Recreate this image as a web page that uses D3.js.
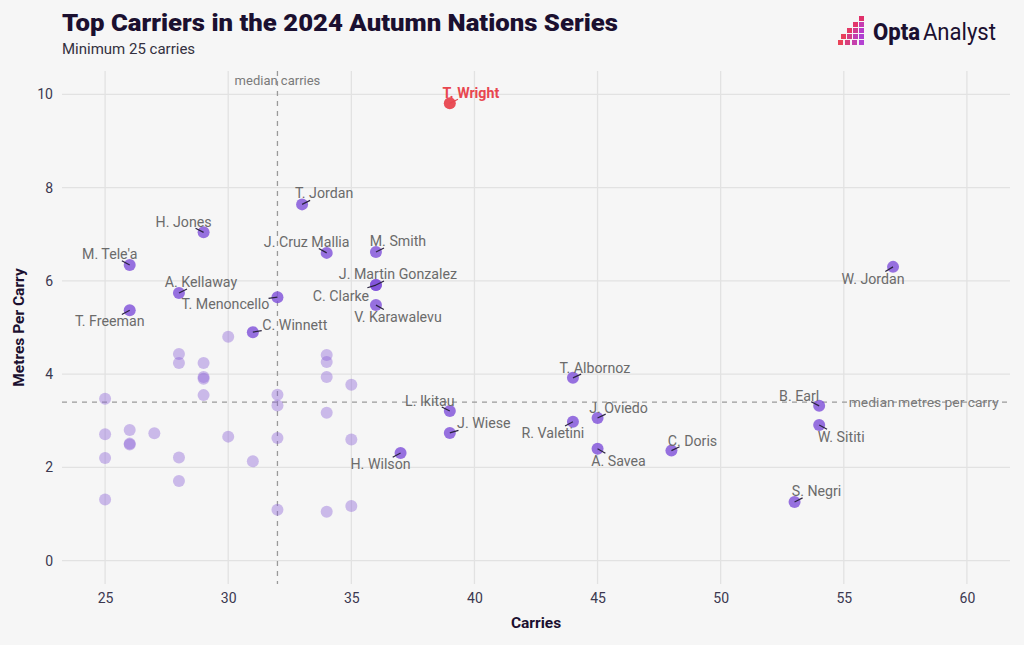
<!DOCTYPE html>
<html>
<head>
<meta charset="utf-8">
<script src="https://cdn.jsdelivr.net/npm/d3@7"></script>
<style>
  html, body { margin: 0; padding: 0; background: #f6f6f6; }
  svg { display: block; font-family: Roboto, "Noto Sans", sans-serif; }
</style>
</head>
<body>
<svg id="chart" width="1024" height="645"></svg>
<script>
// ---------------- DATA ----------------
const labelledNames = ["T. Wright","T. Jordan","H. Jones","J. Cruz Mallia","M. Smith","M. Tele'a","W. Jordan",
  "J. Martin Gonzalez","C. Clarke","A. Kellaway","T. Menoncello","V. Karawalevu","T. Freeman","C. Winnett",
  "T. Albornoz","B. Earl","L. Ikitau","J. Oviedo","R. Valetini","W. Sititi","J. Wiese","A. Savea","C. Doris",
  "H. Wilson","S. Negri"];
const labelledCarries = [39,33,29,34,36,26,57,36,36,28,32,36,26,31,44,54,39,45,44,54,39,45,48,37,53];
const labelledMetres  = [9.81,7.64,7.04,6.60,6.62,6.34,6.30,5.91,5.91,5.74,5.65,5.48,5.37,4.90,
  3.92,3.32,3.21,3.06,2.98,2.91,2.74,2.40,2.36,2.31,1.26];
const highlighted = ["T. Wright"];

const otherCarries = [25,25,25,25,26,26,26,27,28,28,28,28,29,29,29,29,30,30,31,32,32,32,32,34,34,34,34,34,35,35,35];
const otherMetres  = [3.47,2.71,2.20,1.31,2.80,2.49,2.51,2.73,4.43,4.24,2.21,1.71,4.24,3.90,3.94,3.55,4.80,2.66,2.13,
  3.56,3.33,2.63,1.09,4.41,4.26,3.94,3.17,1.05,3.77,2.60,1.17];

const medianCarries = 32;
const medianMetres = 3.40;

const xTicks = [25,30,35,40,45,50,55,60];
const yTicks = [0,2,4,6,8,10];

// label placement offsets (px from the point to the label centre)
const labelOffsets = [[21,-10],[22,-11],[-20,-10],[-20,-11],[22,-11],[-20,-11],[-20,12],[22,-11],[-35,11],
  [22,-11],[-52,7],[22,12],[-20,11],[42,-7],[22,-10],[-20,-10],[-20,-10],[21,-10],[-20,11],[22,12],
  [34,-10],[21,12],[21,-10],[-20,11],[22,-11]];

// ---------------- CHART ----------------
const svg = d3.select("#chart");
const W = 1024, H = 645;
const P = {left: 62, right: 1010, top: 71, bottom: 584};

svg.append("rect").attr("width", W).attr("height", H).attr("fill", "#f6f6f6");

const x = d3.scaleLinear().domain([23.25, 61.75]).range([P.left, P.right]);
const y = d3.scaleLinear().domain([-0.5, 10.5]).range([P.bottom, P.top]);

// grid
const grid = svg.append("g");
grid.selectAll(".gx").data(xTicks).join("line")
  .attr("x1", d => x(d)).attr("x2", d => x(d)).attr("y1", P.top).attr("y2", P.bottom)
  .attr("stroke", "#e2e2e2").attr("stroke-width", 1.3);
grid.selectAll(".gy").data(yTicks).join("line")
  .attr("x1", P.left).attr("x2", P.right).attr("y1", d => y(d)).attr("y2", d => y(d))
  .attr("stroke", "#e2e2e2").attr("stroke-width", 1.3);

// axes (tick labels only)
const xAxis = d3.axisBottom(x).tickValues(xTicks).tickSize(0).tickPadding(9);
const gx = svg.append("g").attr("transform", `translate(0,${P.bottom})`).call(xAxis);
gx.select(".domain").remove();
gx.selectAll("text").attr("font-size", 14).attr("fill", "#3b3850")
  .attr("font-family", "Roboto, sans-serif");

const yAxis = d3.axisLeft(y).tickValues(yTicks).tickSize(0).tickPadding(9);
const gy = svg.append("g").attr("transform", `translate(${P.left},0)`).call(yAxis);
gy.select(".domain").remove();
gy.selectAll("text").attr("font-size", 14).attr("fill", "#3b3850")
  .attr("font-family", "Roboto, sans-serif");

// axis titles
svg.append("text").attr("x", x(42.5)).attr("y", 628).attr("text-anchor", "middle")
  .attr("font-size", 15.5).attr("font-weight", 700).attr("fill", "#1b1030").text("Carries");
svg.append("text").attr("transform", `translate(24,${y(5)}) rotate(-90)`).attr("text-anchor", "middle")
  .attr("font-size", 15.5).attr("font-weight", 700).attr("fill", "#1b1030").text("Metres Per Carry");

// median lines
svg.append("line").attr("x1", x(medianCarries)).attr("x2", x(medianCarries))
  .attr("y1", P.top).attr("y2", P.bottom)
  .attr("stroke", "#9a9a9a").attr("stroke-width", 1.3).attr("stroke-dasharray", "5,5");
svg.append("line").attr("x1", P.left).attr("x2", P.right)
  .attr("y1", y(medianMetres)).attr("y2", y(medianMetres))
  .attr("stroke", "#9a9a9a").attr("stroke-width", 1.3).attr("stroke-dasharray", "5,5");
svg.append("text").attr("x", x(medianCarries)).attr("y", y(10.3)).attr("text-anchor", "middle")
  .attr("dy", "0.35em").attr("font-size", 13).attr("fill", "#7a7a7a").text("median carries");
svg.append("text").attr("x", x(55.2)).attr("y", y(medianMetres)).attr("text-anchor", "start")
  .attr("dy", "0.35em").attr("font-size", 13).attr("fill", "#7a7a7a")
  .attr("textLength", 150).attr("lengthAdjust", "spacingAndGlyphs").text("median metres per carry");

// unlabelled points
const others = otherCarries.map((c, i) => ({c, m: otherMetres[i]}));
svg.append("g").selectAll("circle").data(others).join("circle")
  .attr("cx", d => x(d.c)).attr("cy", d => y(d.m)).attr("r", 6)
  .attr("fill", "#8a5fd8").attr("fill-opacity", 0.4);

// labelled points
const lab = labelledNames.map((n, i) => ({
  n, c: labelledCarries[i], m: labelledMetres[i], off: labelOffsets[i], hi: highlighted.includes(n)
}));
svg.append("g").selectAll("circle").data(lab).join("circle")
  .attr("cx", d => x(d.c)).attr("cy", d => y(d.m)).attr("r", 6)
  .attr("fill", d => d.hi ? "#e8464f" : "#7e4fd9").attr("fill-opacity", d => d.hi ? 0.95 : 0.8);

// leader segments
svg.append("g").selectAll("line").data(lab).join("line")
  .attr("x1", d => x(d.c)).attr("y1", d => y(d.m))
  .attr("x2", d => { const [dx, dy] = d.off, L = Math.hypot(dx, dy); return x(d.c) + dx / L * 9; })
  .attr("y2", d => { const [dx, dy] = d.off, L = Math.hypot(dx, dy); return y(d.m) + dy / L * 9; })
  .attr("stroke", d => d.hi ? "#e8464f" : "#2a2340").attr("stroke-width", 1.2);

// labels
svg.append("g").selectAll("text").data(lab).join("text")
  .attr("x", d => x(d.c) + d.off[0]).attr("y", d => y(d.m) + d.off[1])
  .attr("dy", "0.35em").attr("text-anchor", "middle")
  .attr("font-size", 14.2).attr("font-weight", d => d.hi ? 700 : 400)
  .attr("fill", d => d.hi ? "#e8464f" : "#6b6b6b").text(d => d.n);

// title & subtitle
svg.append("text").attr("x", 62).attr("y", 31).attr("font-size", 23).attr("font-weight", 900)
  .attr("fill", "#1b1030").attr("textLength", 556).attr("lengthAdjust", "spacingAndGlyphs")
  .text("Top Carriers in the 2024 Autumn Nations Series");
svg.append("text").attr("x", 62).attr("y", 54).attr("font-size", 15).attr("fill", "#333040")
  .text("Minimum 25 carries");

// logo
const logoSquares = [[859,16,"#e0306a"],[853,22,"#e2366b"],[859,22,"#c63bb0"],[847,28,"#e43a66"],[853,28,"#d23a8e"],
  [859,28,"#b93ac8"],[841,34,"#e83f5c"],[847,34,"#d43e86"],[853,34,"#c23fb0"],[859,34,"#b03fd0"],
  [838,40,"#ea4358"],[845,40,"#d8407e"],[852,40,"#c540ac"],[859,40,"#b442d2"]];
svg.append("g").selectAll("rect").data(logoSquares).join("rect")
  .attr("x", d => d[0]).attr("y", d => d[1]).attr("width", 5).attr("height", 5).attr("fill", d => d[2]);
const logoText = svg.append("text").attr("x", 873).attr("y", 40).attr("font-size", 23).attr("fill", "#1b1030")
  .attr("textLength", 123).attr("lengthAdjust", "spacingAndGlyphs");
logoText.append("tspan").attr("font-weight", 800).text("Opta");
logoText.append("tspan").attr("font-weight", 400).attr("dx", 3).text("Analyst");
</script>
</body>
</html>
